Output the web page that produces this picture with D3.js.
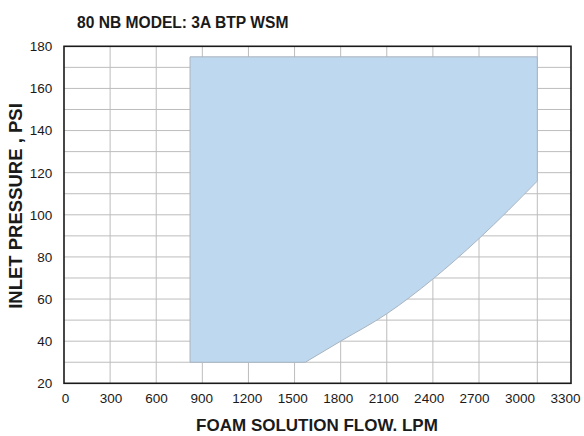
<!DOCTYPE html>
<html>
<head>
<meta charset="utf-8">
<script src="https://cdn.jsdelivr.net/npm/d3@7/dist/d3.min.js"></script>
<style>
  html, body { margin: 0; padding: 0; background: #fff; }
  svg { display: block; font-family: "Liberation Sans", Arial, sans-serif; }
</style>
</head>
<body>
<svg id="chart" width="584" height="436"></svg>
<script>
// ---- data ----
const title = "80 NB MODEL: 3A BTP WSM";
const xTitle = "FOAM SOLUTION FLOW. LPM";
const yTitle = "INLET PRESSURE , PSI";
const xTickLabels = [0, 300, 600, 900, 1200, 1500, 1800, 2100, 2400, 2700, 3000, 3300];
const yTickLabels = [20, 40, 60, 80, 100, 120, 140, 160, 180];
const xGrid = [300, 600, 900, 1200, 1500, 1800, 2100, 2400, 2700, 3000];
const yGrid = [30, 40, 50, 60, 70, 80, 90, 100, 110, 120, 130, 140, 150, 160, 170];
// operating envelope
const envMinFlow = 820;
const envMaxFlow = 3000;
const envMaxPressure = 175;
const envMinPressure = 30;
// lower-right boundary curve (flow LPM, pressure PSI)
const curveFlow =     [1570, 1800, 2100, 2400, 2700, 3000];
const curvePressure = [30,   40,   53,   69.5, 88.7, 116];

// ---- layout ----
const svg = d3.select("#chart");
const L = 64, R = 571, T = 46.3, B = 383.3;

// grid/marks scale (the printed chart's grid is slightly uneven toward the right)
const x = d3.scaleLinear().domain([0, 2700, 3000, 3300]).range([L, 479, 537.3, R]);
// tick label positions
const xLab = d3.scaleLinear().domain([0, 3300]).range([65, 565]);
const y = d3.scaleLinear().domain([20, 180]).range([B, T]);

// grid lines
const grid = svg.append("g").attr("stroke", "#bdbdbd").attr("stroke-width", 1);
grid.selectAll("line.v").data(xGrid).join("line")
  .attr("x1", d => x(d)).attr("x2", d => x(d)).attr("y1", T).attr("y2", B);
grid.selectAll("line.h").data(yGrid).join("line")
  .attr("x1", L).attr("x2", R).attr("y1", d => y(d)).attr("y2", d => y(d));

// envelope area
const pts = curveFlow.map((f, i) => [x(f), y(curvePressure[i])]);
const curveGen = d3.line().curve(d3.curveMonotoneX);
const curvePath = curveGen(pts).replace(/^M/, "L");
const d = `M${x(envMinFlow)},${y(envMaxPressure)}L${x(envMinFlow)},${y(envMinPressure)}` +
          curvePath + `L${x(envMaxFlow)},${y(envMaxPressure)}Z`;
svg.append("path").attr("d", d)
  .attr("fill", "#bed8ef").attr("stroke", "#a9b4bf").attr("stroke-width", 1);

// frame
svg.append("rect").attr("x", L).attr("y", T).attr("width", R - L).attr("height", B - T)
  .attr("fill", "none").attr("stroke", "#1a1a1a").attr("stroke-width", 1.6);

// axes labels
const xAxis = d3.axisBottom(xLab).tickValues(xTickLabels).tickSize(0).tickPadding(10.5)
  .tickFormat(d3.format("d"));
const gx = svg.append("g").attr("transform", `translate(0,${B})`).call(xAxis);
gx.select(".domain").remove();
gx.selectAll("text").attr("font-size", 13.5).attr("fill", "#1a1a1a")
  .attr("font-family", "Liberation Sans, Arial, sans-serif");

const yAxis = d3.axisLeft(y).tickValues(yTickLabels).tickSize(0).tickPadding(11.7)
  .tickFormat(d3.format("d"));
const gy = svg.append("g").attr("transform", `translate(${L},0)`).call(yAxis);
gy.select(".domain").remove();
gy.selectAll("text").attr("font-size", 13.5).attr("fill", "#1a1a1a")
  .attr("font-family", "Liberation Sans, Arial, sans-serif");

// titles
svg.append("text").attr("x", 77).attr("y", 27.5).text(title)
  .attr("font-size", 15.6).attr("font-weight", "bold").attr("fill", "#1a1a1a");
svg.append("text").attr("x", 317).attr("y", 431).attr("text-anchor", "middle").text(xTitle)
  .attr("font-size", 17).attr("font-weight", "bold").attr("fill", "#1a1a1a");
svg.append("text").attr("transform", "translate(21.7,206) rotate(-90)")
  .attr("text-anchor", "middle").text(yTitle)
  .attr("font-size", 18.5).attr("font-weight", "bold").attr("fill", "#1a1a1a");
</script>
</body>
</html>
